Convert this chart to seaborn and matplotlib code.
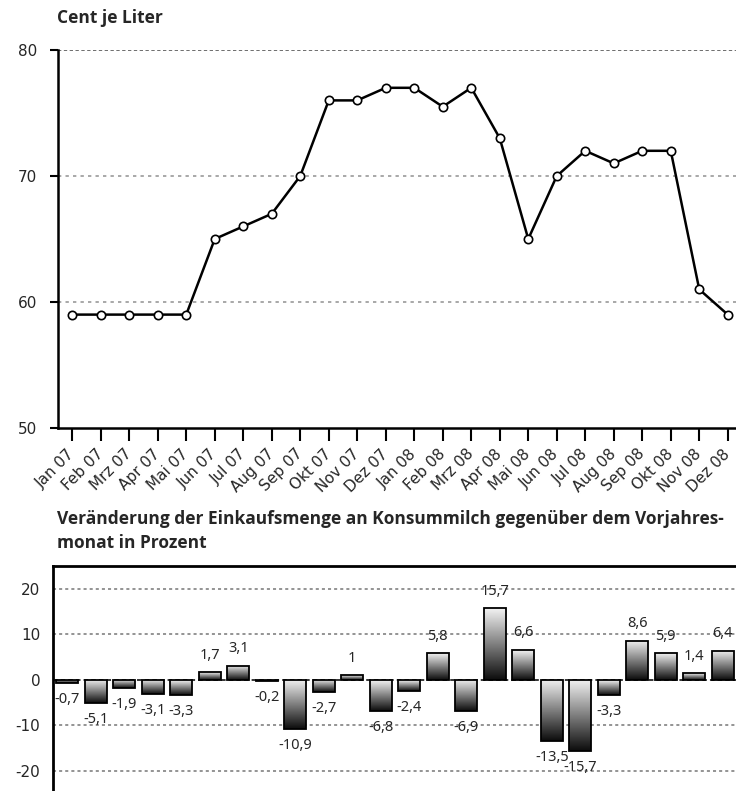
import numpy as np
import pandas as pd
import matplotlib
matplotlib.use('Agg')
import matplotlib.pyplot as plt
import seaborn as sns

# Daten
monate = ['Jan 07', 'Feb 07', 'Mrz 07', 'Apr 07', 'Mai 07', 'Jun 07', 'Jul 07', 'Aug 07',
          'Sep 07', 'Okt 07', 'Nov 07', 'Dez 07', 'Jan 08', 'Feb 08', 'Mrz 08', 'Apr 08',
          'Mai 08', 'Jun 08', 'Jul 08', 'Aug 08', 'Sep 08', 'Okt 08', 'Nov 08', 'Dez 08']
preis_cent = [59, 59, 59, 59, 59, 65, 66, 67, 70, 76, 76, 77,
              77, 75.5, 77, 73, 65, 70, 72, 71, 72, 72, 61, 59]
veraenderung = [-0.7, -5.1, -1.9, -3.1, -3.3, 1.7, 3.1, -0.2, -10.9, -2.7, 1, -6.8,
                -2.4, 5.8, -6.9, 15.7, 6.6, -13.5, -15.7, -3.3, 8.6, 5.9, 1.4, 6.4]
y_ticks_oben = [50, 60, 70, 80]
y_ticks_unten = [-20, -10, 0, 10, 20]

titel_oben = 'Cent je Liter'
titel_unten = ('Veränderung der Einkaufsmenge an Konsummilch gegenüber dem Vorjahres-\n'
               'monat in Prozent')

sns.set_style('white')
plt.rcParams['font.family'] = ['DejaVu Sans']
plt.rcParams['axes.unicode_minus'] = False

titel_font = ['Open Sans', 'DejaVu Sans']

W, H = 736, 791
fig = plt.figure(figsize=(W / 100, H / 100), dpi=100)

# --- oberes Diagramm: Preis ---
ax1 = fig.add_axes([58 / W, 1 - 428 / H, 684 / W, 378 / H])
df_preis = pd.DataFrame({'x': np.arange(len(monate)), 'preis': preis_cent})
sns.lineplot(data=df_preis, x='x', y='preis', ax=ax1, color='black', lw=1.8,
             marker='o', markersize=6, markerfacecolor='white',
             markeredgecolor='black', markeredgewidth=1.2, zorder=3)
ax1.set_xlim(-0.5, 23.5)
ax1.set_ylim(50, 80)
ax1.set_yticks(y_ticks_oben)
ax1.set_xticks(np.arange(len(monate)))
ax1.set_xticklabels(monate, rotation=45, ha='right', va='center',
                    rotation_mode='anchor', fontsize=11)
ax1.tick_params(axis='x', bottom=True, direction='out', length=9, width=1.5,
                pad=8, color='black')
ax1.tick_params(axis='y', left=True, direction='out', length=6, width=1.5, pad=9,
                labelsize=11, color='black')
for v in [60, 70]:
    ax1.axhline(v, color='#999999', lw=1.2, ls=(0, (2, 2.5)), zorder=1)
ax1.axhline(80, color='#555555', lw=1.2, ls=(0, (2, 1.5)), zorder=1)
for s in ['top', 'right']:
    ax1.spines[s].set_visible(False)
for s in ['left', 'bottom']:
    ax1.spines[s].set_linewidth(1.8)
    ax1.spines[s].set_color('black')
ax1.set_xlabel('')
ax1.set_ylabel('')
fig.text(57 / W, 1 - 18 / H, titel_oben, fontsize=12.5, fontweight='bold',
         family=titel_font, va='center', ha='left')

# --- unteres Diagramm: Veränderung ---
ax2 = fig.add_axes([53 / W, 1 - 816 / H, 684 / W, 250 / H])
df_ver = pd.DataFrame({'monat': monate, 'wert': veraenderung})
sns.barplot(data=df_ver, x='monat', y='wert', ax=ax2, color='white',
            edgecolor='black', linewidth=1.3, width=0.77, zorder=3)

# Farbverlauf in jedem Balken: oben hell, unten dunkel
grad = np.linspace(0.95, 0.05, 100).reshape(-1, 1)
for p in ax2.patches:
    x0, y0 = p.get_x(), p.get_y()
    w, h = p.get_width(), p.get_height()
    lo, hi = min(y0, y0 + h), max(y0, y0 + h)
    im = ax2.imshow(grad, extent=[x0, x0 + w, lo, hi], origin='upper',
                    cmap='gray', vmin=0, vmax=1, aspect='auto', zorder=2.5)
    im.set_clip_path(p)
    p.set_facecolor('none')
ax2.set_xlim(-0.5, 23.5)
ax2.set_ylim(-30, 25)

for i, v in enumerate(veraenderung):
    txt = f'{v:g}'.replace('.', ',')
    off = 12 if v >= 0 else -12
    ax2.annotate(txt, (i, v), xytext=(0, off), textcoords='offset points',
                 ha='center', va='center', fontsize=10.5, family='Noto Sans', zorder=4)

for v in [-20, -10, 10, 20]:
    ax2.axhline(v, color='#777777', lw=1.1, ls=(0, (2, 2)), zorder=1)
ax2.axhline(0, color='black', lw=1.1, ls=(0, (3, 2)), zorder=1)
ax2.set_yticks(y_ticks_unten)
ax2.set_xticks([])
ax2.tick_params(axis='y', length=0, pad=9, labelsize=11)
for s in ['right', 'bottom']:
    ax2.spines[s].set_visible(False)
for s in ['left', 'top']:
    ax2.spines[s].set_linewidth(2)
    ax2.spines[s].set_color('black')
ax2.set_xlabel('')
ax2.set_ylabel('')
fig.text(57 / W, 1 - 531 / H, titel_unten, fontsize=12.5, fontweight='bold',
         family=titel_font, va='center', ha='left', linespacing=1.45)

fig.savefig('out.png', dpi=100)
